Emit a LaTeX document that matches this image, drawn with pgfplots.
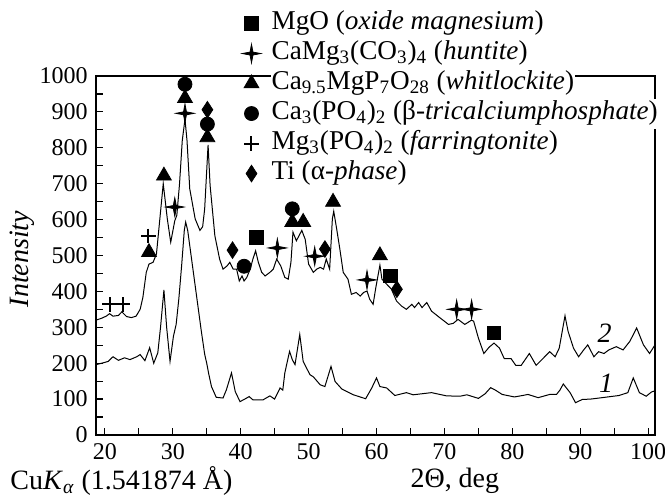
\documentclass[border=0pt]{standalone}
\usepackage{fontspec}
\setmainfont{Liberation Serif}
\usepackage{pgfplots}
\pgfplotsset{compat=1.18}

% four-pointed star used for huntite
\pgfdeclareplotmark{fourstar}{%
  \pgfpathmoveto{\pgfqpoint{0pt}{\pgfplotmarksize}}%
  \pgfpathlineto{\pgfqpoint{0.16\pgfplotmarksize}{0.16\pgfplotmarksize}}%
  \pgfpathlineto{\pgfqpoint{\pgfplotmarksize}{0pt}}%
  \pgfpathlineto{\pgfqpoint{0.16\pgfplotmarksize}{-0.16\pgfplotmarksize}}%
  \pgfpathlineto{\pgfqpoint{0pt}{-\pgfplotmarksize}}%
  \pgfpathlineto{\pgfqpoint{-0.16\pgfplotmarksize}{-0.16\pgfplotmarksize}}%
  \pgfpathlineto{\pgfqpoint{-\pgfplotmarksize}{0pt}}%
  \pgfpathlineto{\pgfqpoint{-0.16\pgfplotmarksize}{0.16\pgfplotmarksize}}%
  \pgfpathclose
  \pgfusepathqfillstroke}

\pgfplotsset{
  phase/.style={only marks, black, mark options={fill=black, solid, line width=0.4bp}},
}
\newcommand{\labelfont}{\fontsize{14bp}{16bp}\selectfont}
\newcommand{\legfont}{\fontsize{13.6bp}{16bp}\selectfont}

\begin{document}
\fontsize{12bp}{14bp}\selectfont
\begin{tikzpicture}
\path[use as bounding box] (-48bp,-30bp) rectangle (284.5bp,217.5bp);
\begin{axis}[
  scale only axis, width=279.5bp, height=179.5bp,
  xmin=18.7, xmax=101, ymin=0, ymax=1000,
  xtick={20,30,...,100}, minor xtick={25,35,...,95},
  ytick={0,100,...,1000}, minor ytick={50,150,...,950},
  tick pos=left, tick align=inside,
  major tick length=3.5bp, minor tick length=3.5bp,
  every tick/.style={black, line width=0.6bp},
  axis line style={line width=1bp},
  /pgf/number format/assume math mode=true,
  /pgf/number format/1000 sep={},
  clip=false,
  ylabel={\textit{Intensity}},
  ylabel style={font=\labelfont, at={(axis description cs:-0.132,0.49)}, anchor=center},
  xlabel={2Θ, deg},
  xlabel style={font=\labelfont, at={(axis description cs:0.642,-0.127)}, anchor=center},
  legend cell align=left,
  legend style={at={(axis description cs:0.261,1.189)}, anchor=north west,
    draw=none, fill=none, inner sep=0pt, row sep=0pt, font=\legfont,
    nodes={fill=white, inner ysep=0.5bp, inner xsep=0.5bp, text height=10bp, text depth=4bp},
    /tikz/every odd column/.append style={column sep=5bp}},
  legend image code/.code={\draw[mark repeat=2,mark phase=2,#1] plot coordinates {(0bp,0bp) (4bp,0bp) (8bp,0bp)};},
]
% curve 1
\addplot[black, line width=0.5bp, forget plot] coordinates {
(18.7,196) (19.75,201) (20.5,205) (21.2,218) (22,208) (22.9,215) (23.7,210) (24.7,218)
(25.2,224) (25.9,207) (26.6,243) (27.2,200) (27.8,229) (28.2,300) (28.7,404) (29.1,300)
(29.6,205) (30.1,275) (30.5,308) (30.9,380) (31.3,470) (31.7,570) (31.9,593) (32.2,570)
(32.7,500) (33.2,430) (33.7,360) (34.2,290) (34.7,225) (35.0,200) (35.3,170) (35.7,135)
(36.4,105) (37.4,103) (37.9,126) (38.65,173) (39.2,121) (39.9,93) (40.6,100) (41.25,107)
(41.8,98) (43.3,98) (44.3,109) (45,100) (45.8,131) (46.2,125) (46.5,173) (47.2,233)
(47.6,210) (48,196) (48.7,280) (49.2,205) (50.2,168) (50.7,162) (51.7,140) (52.4,135)
(53.3,191) (53.9,149) (54.9,128) (56.6,112) (58.4,101) (59.3,131) (60,159) (60.5,135)
(61.5,131) (62.7,110) (64.4,118) (65.4,112) (68.1,118) (70.3,109) (72.3,108) (73.3,112)
(75,102) (76.0,115) (76.8,132) (77.5,125) (78.5,113) (80.3,106) (81.5,110) (82.3,113)
(83.8,104) (85.5,113) (86.5,113) (87,125) (87.5,142) (88.5,118) (89.3,90) (90.3,99)
(91.5,100) (93.2,104) (95.7,110) (97,118) (97.8,159) (98.7,118) (99.7,108) (100.5,120) (101,123)
};
% curve 2
\addplot[black, line width=0.5bp, forget plot] coordinates {
(18.7,320) (19.5,325) (20.2,331) (20.7,338) (21.2,331) (22.0,333) (22.5,343) (23.2,330)
(23.9,327) (24.6,331) (25.2,350) (25.6,383) (26.1,453) (26.5,476) (27.1,481) (27.6,504)
(28.1,602) (28.6,700) (29.2,602) (29.7,537) (30.3,597) (30.6,612) (31.0,700) (31.4,820)
(31.8,880) (32.1,820) (32.5,686) (33.3,602) (34.0,570) (34.4,580) (34.7,630) (35.2,808)
(35.5,695) (36.2,555) (36.9,490) (37.4,462) (38,471) (38.4,481) (38.9,462) (39.4,462)
(39.8,429) (40.2,443) (40.5,429) (40.9,439) (41.4,462) (41.8,490) (42.2,513) (42.6,481)
(43.1,453) (43.6,443) (44.3,453) (44.8,462) (45.3,490) (45.9,471) (46.5,439) (47,434)
(47.4,481) (47.7,565) (48.2,541) (49,570) (49.5,545) (50,476) (50.7,453) (51.2,462)
(51.7,467) (52.2,462) (52.6,490) (53.1,462) (53.5,602) (53.7,623) (54.1,578) (54.6,518)
(55.1,453) (55.8,434) (56.3,392) (57,397) (57.6,387) (58.1,397) (58.6,401) (59,378)
(59.5,364) (59.9,411) (60.5,473) (60.8,434) (61.5,420) (62.2,406) (62.95,373) (63.7,359)
(64.4,350) (65.2,364) (65.6,355) (66.2,369) (66.7,355) (67.4,369) (68.1,345) (69.3,327)
(70.6,308) (71.3,311) (72,322) (73,308) (74,320) (74.3,317) (75,270) (75.8,227)
(76.6,245) (77.3,256) (78.1,242) (78.8,213) (79.8,213) (80.5,194) (81.3,194) (82.5,227)
(83.5,194) (84.5,213) (85.5,232) (86.3,218) (86.9,242) (87.75,332) (88.2,289) (89,242)
(89.75,218) (90.5,237) (91.1,251) (92,218) (92.7,232) (93.5,227) (94.2,237) (95.3,246)
(96.3,237) (97.3,261) (98.3,298) (99.3,251) (100.2,227) (101,251)
};
% phase markers
\addplot[phase, mark=square*, mark size=3.4bp] coordinates {(42.3,551) (62,443) (77.3,284)};
\addlegendentry{MgO (\textit{oxide magnesium})}
\addplot[phase, mark=fourstar, mark size=4.6bp] coordinates {(30.3,635) (31.8,896) (45.4,521) (50.9,498) (58.6,432) (71.8,350) (74,350)};
\addlegendentry{CaMg\textsubscript{3}(CO\textsubscript{3})\textsubscript{4} (\textit{huntite})}
\addplot[phase, mark=triangle*, mark size=4.3bp] coordinates {(26.5,509) (28.7,722) (31.8,938) (35.1,829) (47.6,593) (49.2,593) (53.6,649) (60.5,500)};
\addlegendentry{Ca\textsubscript{9.5}MgP\textsubscript{7}O\textsubscript{28} (\textit{whitlockite})}
\addplot[phase, mark=*, mark size=3.5bp] coordinates {(31.8,977) (35.1,866) (40.5,470) (47.6,630)};
\addlegendentry{Ca\textsubscript{3}(PO\textsubscript{4})\textsubscript{2} (β-\textit{tricalciumphosphate})}
\addplot[only marks, black, mark=+, mark size=3.6bp, mark options={line width=1bp}] coordinates {(20.7,364) (22.7,364) (26.4,555)};
\addlegendentry{Mg\textsubscript{3}(PO\textsubscript{4})\textsubscript{2} (\textit{farringtonite})}
\addplot[phase, mark=diamond*, mark size=3.6bp, mark options={yscale=1.15}] coordinates {(35.1,906) (38.8,515) (52.4,518) (63,406)};
\addlegendentry{Ti (α-\textit{phase})}
\node[font=\labelfont] at (axis cs:93.6,284) {\textit{2}};
\node[font=\labelfont] at (axis cs:93.8,143) {\textit{1}};
\node[font=\labelfont, anchor=west] at (axis description cs:-0.168,-0.127) {Cu\textit{K}\textsubscript{\textit{α}} (1.541874~Å)};
\end{axis}
\end{tikzpicture}
\end{document}
